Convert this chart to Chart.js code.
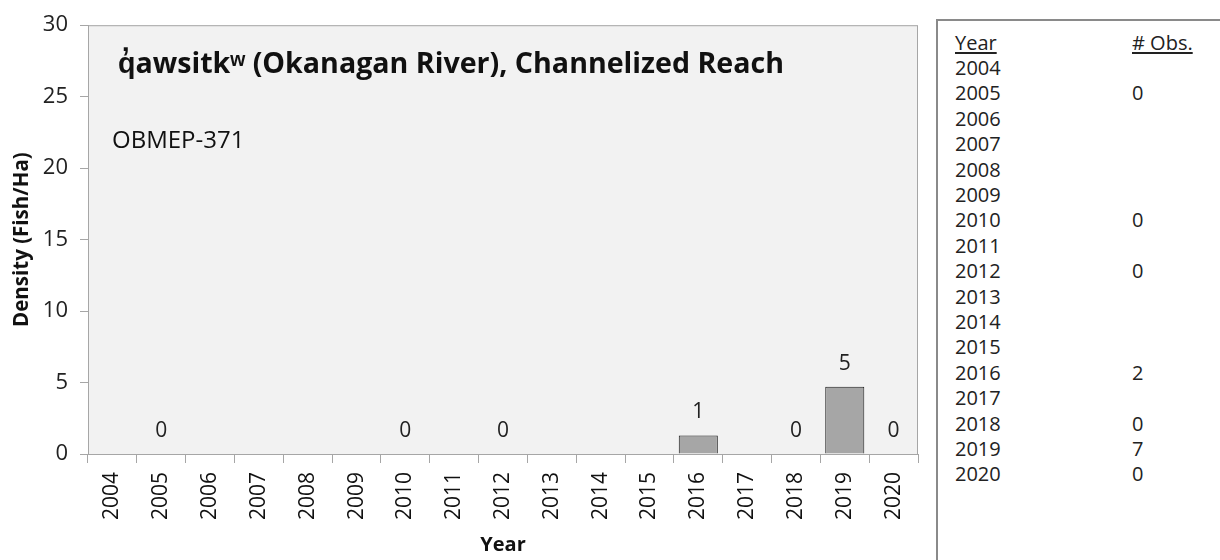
<!DOCTYPE html>
<html>
<head>
<meta charset="utf-8">
<script src="https://cdn.jsdelivr.net/npm/chart.js@4.4.1/dist/chart.umd.min.js"></script>
<style>
  body { margin: 0; background: #fff; width: 1220px; height: 560px; overflow: hidden; position: relative; font-family: "Open Sans", sans-serif; }
  #chartBox { position: absolute; left: 0; top: 0; width: 930px; height: 560px; }
  #obsPanel { position: absolute; left: 936px; top: 19px; width: 320px; height: 600px; border: 2px solid #8a8a8a; box-sizing: border-box; color: #222; font-size: 20px; }
  .row { position: absolute; left: 0; height: 25px; line-height: 25px; white-space: nowrap; }
  .row span { position: absolute; }
  .row .c1 { left: 17px; }
  .row .c2 { left: 194px; }
  .hdr span { text-decoration: underline; text-underline-offset: 2px; }
</style>
</head>
<body>
<div id="chartBox"><canvas id="densityChart" width="930" height="560"></canvas></div>
<div id="obsPanel"></div>
<script>
// survey years and fish density per year (null = no survey)
const years = ['2004', '2005', '2006', '2007', '2008', '2009', '2010', '2011', '2012',
               '2013', '2014', '2015', '2016', '2017', '2018', '2019', '2020'];
const density = [null, 0, null, null, null, null, 0, null, 0, null, null, null, 1.3, null, 0, 4.7, 0];
const observations = ['', '0', '', '', '', '', '0', '', '0', '', '', '', '2', '', '0', '7', '0'];
const yTicks = [0, 5, 10, 15, 20, 25, 30];

const chartTitle = 'q\u0313awsitk\u02B7 (Okanagan River), Channelized Reach';
const siteLabel = 'OBMEP-371';
const fontFamily = '"Open Sans", sans-serif';

//********************************************************************************
///Observation table
//********************************************************************************
const obsPanel = document.getElementById('obsPanel');
function addRow(top, a, b, cls) {
    const row = document.createElement('div');
    row.className = 'row ' + (cls || '');
    row.style.top = top + 'px';
    row.innerHTML = `<span class="c1">${a}</span><span class="c2">${b}</span>`;
    obsPanel.appendChild(row);
}
addRow(9, 'Year', '# Obs.', 'hdr');
years.forEach((y, i) => addRow(34 + i * 25.4, y, observations[i]));

//********************************************************************************
///Plot background, title text and value labels
//********************************************************************************
const plotDecor = {
    id: 'plotDecor',
    beforeDraw(chart) {
        const { ctx, chartArea: a } = chart;
        ctx.save();
        ctx.fillStyle = '#f2f2f2';
        ctx.fillRect(a.left, a.top, a.right - a.left, a.bottom - a.top);
        ctx.strokeStyle = '#a6a6a6';
        ctx.lineWidth = 1;
        ctx.strokeRect(a.left + 0.5, a.top + 0.5, a.right - a.left - 1, a.bottom - a.top);
        ctx.restore();
    },
    afterDatasetsDraw(chart) {
        const { ctx, chartArea: a } = chart;
        ctx.save();
        ctx.fillStyle = '#111';
        ctx.textBaseline = 'middle';
        ctx.textAlign = 'left';
        ctx.font = 'bold 28.6px ' + fontFamily;
        ctx.fillText(chartTitle, a.left + 30, 65);
        ctx.font = '24px ' + fontFamily;
        ctx.fillText(siteLabel, a.left + 24, 141);

        // rounded value above each surveyed year
        ctx.fillStyle = '#222';
        ctx.textAlign = 'center';
        ctx.font = '21px ' + fontFamily;
        const meta = chart.getDatasetMeta(0);
        meta.data.forEach((bar, i) => {
            const v = density[i];
            if (v === null) return;
            ctx.fillText(String(Math.round(v)), bar.x, bar.y - 23);
        });
        ctx.restore();
    }
};

const chart = new Chart(document.getElementById('densityChart'), {
    type: 'bar',
    data: {
        labels: years,
        datasets: [{
            data: density,
            backgroundColor: '#a6a6a6',
            borderColor: '#1a1a1a',
            borderWidth: 1,
            barPercentage: 0.8,
            categoryPercentage: 1.0
        }]
    },
    options: {
        responsive: false,
        animation: false,
        layout: { padding: { top: 21, right: 12, left: 10, bottom: 3 } },
        plugins: {
            legend: { display: false },
            tooltip: { enabled: false }
        },
        scales: {
            x: {
                offset: true,
                grid: { display: true, drawOnChartArea: false, drawTicks: true, tickLength: 9, color: '#a6a6a6', offset: true },
                border: { display: true, color: '#a6a6a6' },
                ticks: {
                    color: '#111',
                    font: { family: fontFamily, size: 21 },
                    minRotation: 90,
                    maxRotation: 90,
                    padding: 9,
                    autoSkip: false
                },
                title: {
                    display: true,
                    text: 'Year',
                    color: '#111',
                    font: { family: fontFamily, size: 20, weight: 'bold' },
                    padding: { top: 4, bottom: 0 }
                },
                afterFit(scale) { scale.height = 103; }
            },
            y: {
                min: 0,
                max: 30,
                afterBuildTicks(scale) { scale.ticks = yTicks.map(v => ({ value: v })); },
                grid: { display: true, drawOnChartArea: false, drawTicks: true, tickLength: 8, color: '#a6a6a6' },
                border: { display: true, color: '#a6a6a6' },
                ticks: {
                    color: '#222',
                    font: { family: fontFamily, size: 22 },
                    padding: 12
                },
                title: {
                    display: true,
                    text: 'Density (Fish/Ha)',
                    color: '#111',
                    font: { family: fontFamily, size: 20.5, weight: 'bold' },
                    padding: { top: 0, bottom: 4 }
                },
                afterFit(scale) { scale.width = 78; }
            }
        }
    },
    plugins: [plotDecor]
});
</script>
</body>
</html>
